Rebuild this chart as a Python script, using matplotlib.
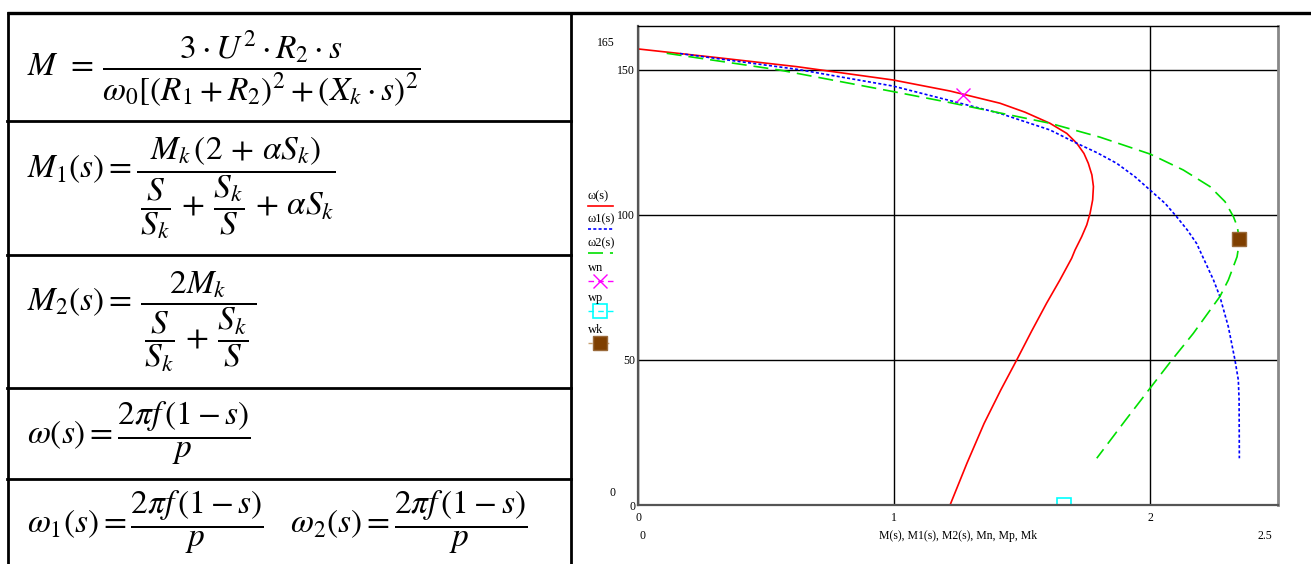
import numpy as np
import matplotlib
matplotlib.use("Agg")
import matplotlib.pyplot as plt

plt.rcParams["font.family"] = ["Liberation Serif", "DejaVu Serif"]
plt.rcParams["mathtext.fontset"] = "stix"
plt.rcParams["lines.scale_dashes"] = False

W, H = 1311, 564

# --- curve data: torque M (x), speed omega (y) ---
RED_M = [0.0, 0.31, 0.62, 0.997, 1.219, 1.414, 1.512, 1.609, 1.675, 1.714,
         1.742, 1.759, 1.773, 1.779, 1.776, 1.766, 1.753, 1.733, 1.707, 1.694,
         1.648, 1.596, 1.537, 1.479, 1.417, 1.352, 1.285, 1.219]
RED_W = [157.1, 154.1, 151.0, 146.4, 142.6, 138.4, 135.3, 131.5, 128.0, 124.6,
         121.1, 117.7, 113.7, 109.7, 105.1, 100.5, 96.5, 92.4, 87.8, 85.0,
         77.5, 69.5, 59.8, 49.9, 39.6, 28.1, 14.4, 0.0]

BLU_M = [0.164, 0.62, 0.997, 1.219, 1.414, 1.609, 1.714, 1.792, 1.870, 1.941,
         2.0, 2.059, 2.104, 2.146, 2.182, 2.215, 2.248, 2.273, 2.306, 2.332,
         2.345, 2.348, 2.349]
BLU_W = [155.5, 150.1, 144.3, 139.3, 134.9, 129.2, 124.6, 121.4, 117.7, 113.1,
         108.5, 103.9, 99.3, 94.7, 90.1, 83.8, 77.5, 71.8, 61.4, 49.9,
         43.1, 36.2, 16.1]

GRN_M = [0.112, 0.555, 0.997, 1.219, 1.609, 1.805, 2.0, 2.130, 2.234, 2.293,
         2.326, 2.341, 2.347, 2.348, 2.340, 2.306, 2.273, 2.169, 2.085, 2.0,
         1.905, 1.792]
GRN_W = [155.6, 149.8, 142.4, 138.6, 131.5, 126.7, 120.9, 115.4, 109.7, 104.5,
         99.3, 95.9, 92.4, 90.0, 85.5, 77.5, 71.8, 59.1, 49.9, 40.2,
         29.3, 16.1]

WN = (1.27, 141.2)
WP = (1.664, 0.0)
WK = (2.348, 91.6)

X_LIM = (0, 2.5)
Y_LIM = (0, 165)
X_TICKS = [0, 1, 2]
Y_TICKS = [0, 50, 100, 150]
X_LABEL = "M(s), M1(s), M2(s), Mn, Mp, Mk"

LEGEND = ["ω(s)", "ω1(s)", "ω2(s)", "wn", "wp", "wk"]

FORMULAS = [
    r"$M\,\;=\,\dfrac{3\cdot U^{2}\cdot R_{2}\cdot s}{\omega_{0}[(R_{1}+R_{2})^{2}+(X_{k}\cdot s)^{2}}$",
    r"$M_{1}(s)=\dfrac{M_{k}\,(2\,+\,\alpha S_{k})}{\,\dfrac{S}{S_{k}}\,+\,\dfrac{S_{k}}{S}\,+\,\alpha S_{k}}$",
    r"$M_{2}(s)=\,\dfrac{2M_{k}}{\,\dfrac{\,S\,}{S_{k}}\,+\,\dfrac{S_{k}}{S}\,}$",
    r"$\omega(s)=\dfrac{2\pi f\,(1-s)}{p}$",
    r"$\omega_{1}(s)=\dfrac{2\pi f\,(1-s)}{p}\quad\omega_{2}(s)=\dfrac{2\pi f\,(1-s)}{p}$",
]
ROW_EDGES = [13, 121, 255, 388, 479]
ROW_MID = [69, 188, 322, 433, 522]

fig = plt.figure(figsize=(W / 100, H / 100), dpi=100)

# background layer in pixel coordinates: table, top rule, legend
bg = fig.add_axes([0, 0, 1, 1])
bg.set_xlim(0, W)
bg.set_ylim(H, 0)
bg.axis("off")

bg.plot([7, W], [13, 13], color="black", lw=2.4, solid_capstyle="butt")
for y in ROW_EDGES[1:]:
    bg.plot([7, 571], [y, y], color="black", lw=2.0)
bg.plot([8, 8], [13, H], color="black", lw=2.0)
bg.plot([571, 571], [13, H], color="black", lw=2.0)
for f, y in zip(FORMULAS, ROW_MID):
    bg.text(27, y, f, fontsize=24, ha="left", va="center")

# Mathcad-like legend: label above its sample
leg_y = [196, 219, 243, 268, 298, 330]
styles = [
    dict(color="red", lw=1.2),
    dict(color="blue", lw=1.2, dashes=(2.2, 1.6)),
    dict(color="#00e000", lw=1.2, dashes=(10.8, 5.0)),
    dict(color="magenta", lw=1.0, dashes=(4, 3), marker="x", ms=10, mew=1.0),
    dict(color="cyan", lw=1.0, dashes=(4, 3), marker="s", ms=9.5, mfc="none", mew=1.2),
    dict(color="#c8a070", lw=1.0, dashes=(3, 3), marker="s", ms=10, mfc="#7f3f00", mec="#9a6a3a"),
]
for lab, y, st in zip(LEGEND, leg_y, styles):
    bg.text(588, y, lab, fontsize=9, ha="left", va="center")
    mk = st.pop("marker", None)
    if mk:
        bg.plot([588, 613], [y + 13, y + 13], **{k: v for k, v in st.items()
                                               if k not in ("ms", "mfc", "mec", "mew")})
        bg.plot([600], [y + 13], marker=mk, ls="none", color=st["color"],
                ms=st.get("ms"), mfc=st.get("mfc", st["color"]),
                mec=st.get("mec", st["color"]), mew=st.get("mew", 1.0))
    else:
        bg.plot([588, 613], [y + 10, y + 10], **st)

# --- plot ---
ax = fig.add_axes([638 / W, (H - 505) / H, 640 / W, 479 / H])
ax.set_xlim(*X_LIM)
ax.set_ylim(*Y_LIM)

ax.plot(RED_M, RED_W, color="red", lw=1.2)
ax.plot(BLU_M, BLU_W, color="blue", lw=1.2, dashes=(2.2, 1.6))
ax.plot(GRN_M, GRN_W, color="#00e000", lw=1.2, dashes=(10.8, 5.0))
ax.plot(*WN, marker="x", color="magenta", ms=10, mew=1.0, ls="none")
ax.plot(*WP, marker="s", color="cyan", ms=9.5, mfc="none", mew=1.2, ls="none")
ax.plot(*WK, marker="s", color="#7f3f00", mec="#9a6a3a", ms=10.5, ls="none")

ax.set_xticks(X_TICKS)
ax.set_yticks(Y_TICKS)
ax.set_xticklabels([str(t) for t in X_TICKS])
ax.set_yticklabels([str(t) for t in Y_TICKS])
ax.tick_params(length=0, labelsize=8.5, pad=2)
ax.tick_params(axis="x", pad=5)
ax.grid(True, color="black", lw=1.0)
ax.set_axisbelow(True)
for s in ("left", "bottom"):
    ax.spines[s].set_color("#555555")
    ax.spines[s].set_linewidth(1.6)
ax.spines["top"].set_color("black")
ax.spines["top"].set_linewidth(1.0)
ax.spines["right"].set_color("#888888")
ax.spines["right"].set_linewidth(2.0)

# Mathcad axis limit labels
ax.annotate(f"{Y_LIM[1]}", xy=(0, Y_LIM[1]), xycoords=("axes fraction", "data"),
            xytext=(-41, -17), textcoords="offset pixels", fontsize=8.5,
            ha="left", va="center")
ax.annotate(f"{Y_LIM[0]}", xy=(0, Y_LIM[0]), xycoords=("axes fraction", "data"),
            xytext=(-29, 12), textcoords="offset pixels", fontsize=8.5,
            ha="left", va="center")
ax.annotate(f"{X_LIM[0]}", xy=(X_LIM[0], 0), xycoords=("data", "axes fraction"),
            xytext=(5, -31), textcoords="offset pixels", fontsize=8.5,
            ha="center", va="center")
ax.annotate(f"{X_LIM[1]}", xy=(X_LIM[1], 0), xycoords=("data", "axes fraction"),
            xytext=(-13, -31), textcoords="offset pixels", fontsize=8.5,
            ha="center", va="center")
ax.annotate(X_LABEL, xy=(0.5, 0), xycoords="axes fraction",
            xytext=(0, -31), textcoords="offset pixels", fontsize=8.5,
            ha="center", va="center")

fig.savefig("out.png", dpi=100)
